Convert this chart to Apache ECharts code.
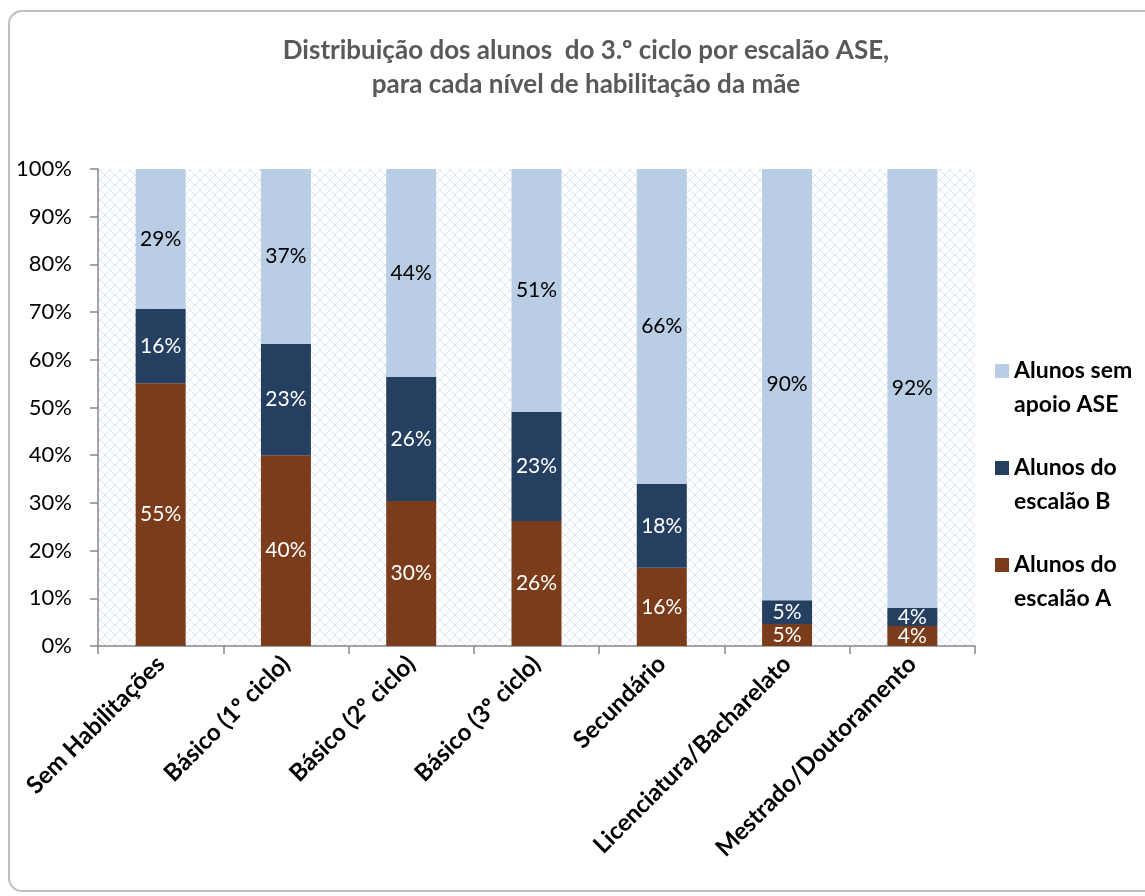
<!DOCTYPE html>
<html>
<head>
<meta charset="utf-8">
<script src="https://cdn.jsdelivr.net/npm/echarts@6/dist/echarts.min.js"></script>
<style>
  html, body { margin: 0; padding: 0; background: #fff; }
  #frame {
    position: absolute; left: 8px; top: 10px; width: 1160px; height: 882px;
    border: 2px solid #bfbfbf; border-radius: 14px; box-sizing: border-box;
  }
  #chart { position: absolute; left: 0; top: 0; width: 1145px; height: 896px; }
</style>
</head>
<body>
<div id="frame"></div>
<div id="chart"></div>
<script>
// categories (nível de habilitação da mãe)
var categories = ['Sem Habilitações', 'Básico (1º ciclo)', 'Básico (2º ciclo)', 'Básico (3º ciclo)',
  'Secundário', 'Licenciatura/Bacharelato', 'Mestrado/Doutoramento'];
// percentagens
var escalaoA = [55.1, 40.0, 30.4, 26.2, 16.4, 4.6, 4.2];
var escalaoB = [15.6, 23.3, 26.0, 22.9, 17.6, 5.0, 3.8];
var semApoio = [29.3, 36.7, 43.6, 50.9, 66.0, 90.4, 92.0];
var yTicks = [0, 10, 20, 30, 40, 50, 60, 70, 80, 90, 100];

// fundo tracejado da área do gráfico
var pat = document.createElement('canvas');
pat.width = 10; pat.height = 10;
var ctx = pat.getContext('2d');
ctx.fillStyle = '#ffffff';
ctx.fillRect(0, 0, 10, 10);
ctx.strokeStyle = 'rgba(198,217,241,0.65)';
ctx.lineWidth = 1;
ctx.beginPath();
ctx.moveTo(0, 0); ctx.lineTo(10, 10);
ctx.moveTo(10, 0); ctx.lineTo(0, 10);
ctx.stroke();

var font = 'Lato, "Open Sans", sans-serif';
var chart = echarts.init(document.getElementById('chart'));

function lbl(color) {
  return {
    show: true, position: 'inside', color: color, fontSize: 21, fontFamily: font,
    formatter: function (p) { return Math.round(p.value) + '%'; }
  };
}

var option = {
  animation: false,
  title: {
    text: 'Distribuição dos alunos  do 3.º ciclo por escalão ASE,\npara cada nível de habilitação da mãe',
    left: 581, top: 29, textAlign: 'center',
    textStyle: { color: '#595959', fontSize: 26, fontWeight: 'bold', fontFamily: font, lineHeight: 34 }
  },
  legend: {
    orient: 'vertical', left: 990, top: 315, itemGap: -5,
    itemWidth: 14, itemHeight: 14, icon: 'rect',
    data: ['Alunos sem\napoio ASE', 'Alunos do\nescalão B', 'Alunos do\nescalão A'],
    // linha vazia por cima para alinhar o ícone com a primeira linha do texto
    formatter: function (n) { return ' \n' + n; },
    textStyle: { color: '#000', fontSize: 23, fontWeight: 'bold', fontFamily: font, lineHeight: 34 }
  },
  grid: {
    left: 98, right: 170, top: 169, bottom: 250,
    show: true, borderWidth: 0,
    backgroundColor: { image: pat, repeat: 'repeat' }
  },
  xAxis: {
    type: 'category', data: categories,
    axisLine: { lineStyle: { color: '#868686', width: 1.5 } },
    axisTick: { show: true, length: 8, lineStyle: { color: '#868686', width: 1.5 } },
    axisLabel: { rotate: 45, margin: 14, color: '#000', fontSize: 24, fontWeight: 'bold', fontFamily: font, interval: 0 }
  },
  yAxis: {
    type: 'value', min: 0, max: 100, interval: 10,
    axisLine: { show: true, lineStyle: { color: '#868686', width: 1.5 } },
    axisTick: { show: true, length: 8, lineStyle: { color: '#868686', width: 1.5 } },
    splitLine: { show: false },
    axisLabel: {
      margin: 26, color: '#000', fontSize: 22, fontFamily: font,
      formatter: function (v) { return yTicks.indexOf(v) >= 0 ? v + '%' : ''; }
    }
  },
  series: [
    { name: 'Alunos do\nescalão A', type: 'bar', stack: 't', data: escalaoA, barWidth: 50,
      itemStyle: { color: '#7a3c1a' }, label: lbl('#ffffff') },
    { name: 'Alunos do\nescalão B', type: 'bar', stack: 't', data: escalaoB, barWidth: 50,
      itemStyle: { color: '#243f60' }, label: lbl('#ffffff') },
    { name: 'Alunos sem\napoio ASE', type: 'bar', stack: 't', data: semApoio, barWidth: 50,
      itemStyle: { color: '#b9cde5' }, label: lbl('#000000') }
  ]
};
chart.setOption(option);
</script>
</body>
</html>
